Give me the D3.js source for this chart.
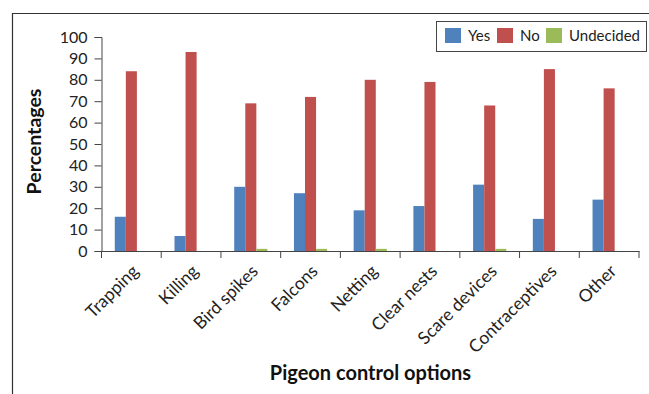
<!DOCTYPE html>
<html><head><meta charset="utf-8">
<script src="https://cdn.jsdelivr.net/npm/d3@7"></script>
<style>body{margin:0;background:#fff;} svg{display:block;}</style>
</head><body>
<script>
const categories = ["Trapping","Killing","Bird spikes","Falcons","Netting","Clear nests","Scare devices","Contraceptives","Other"];
const yesValues = [16,7,30,27,19,21,31,15,24];
const noValues = [84,93,69,72,80,79,68,85,76];
const undecidedValues = [0,0,1,1,1,0,1,0,0];
const seriesNames = ["Yes","No","Undecided"];
const colors = ["#4F81BD","#C0504D","#9BBB59"];
const yTicks = [0,10,20,30,40,50,60,70,80,90,100];

const W=649,H=394;
const font="Lato, 'Open Sans', sans-serif";
const svg=d3.select("body").append("svg").attr("width",W).attr("height",H);
// outer frame
svg.append("path").attr("d","M12.5,394 V13.5 H649").attr("fill","none").attr("stroke","#333").attr("stroke-width",1.2);

const m={left:101.5,right:639,top:37,bottom:251};
const x=d3.scaleBand().domain(categories).range([m.left,m.right]).paddingInner(0).paddingOuter(0);
const y=d3.scaleLinear().domain([0,100]).range([m.bottom,m.top]);
const xs=d3.scaleBand().domain(seriesNames).range([0,x.bandwidth()]).paddingInner(0).paddingOuter(1.2);

const data=categories.map((c,i)=>({c,vals:[yesValues[i],noValues[i],undecidedValues[i]]}));
const g=svg.append("g");
g.selectAll("g.cat").data(data).join("g").attr("class","cat")
 .attr("transform",d=>`translate(${x(d.c)},0)`)
 .selectAll("rect").data(d=>d.vals.map((v,j)=>({v,s:seriesNames[j],j})))
 .join("rect")
 .attr("x",d=>xs(d.s)).attr("width",xs.bandwidth())
 .attr("y",d=>y(d.v)).attr("height",d=>y(0)-y(d.v))
 .attr("fill",d=>colors[d.j]);

// y axis
const ya=svg.append("g").attr("transform",`translate(${m.left},0)`)
 .call(d3.axisLeft(y).tickValues(yTicks).tickSize(7).tickPadding(7));
ya.selectAll("text").attr("font-family",font).attr("font-size",16).attr("fill","#222");
ya.selectAll("line,path").attr("stroke","#444");
// x axis
const xa=svg.append("g").attr("transform",`translate(0,${m.bottom})`)
 .call(d3.axisBottom(x).tickSize(0).tickFormat(""));
xa.select("path").attr("stroke","#444");
const tickPos=d3.range(categories.length+1).map(i=>m.left+i*x.step());
svg.append("g").selectAll("line").data(tickPos).join("line")
 .attr("x1",d=>d).attr("x2",d=>d).attr("y1",m.bottom).attr("y2",m.bottom+7).attr("stroke","#444");
svg.append("g").selectAll("text").data(categories).join("text")
 .attr("transform",d=>`translate(${x(d)+x.bandwidth()/2+4},${m.bottom+17}) rotate(-45)`)
 .attr("text-anchor","end").attr("dy","0.35em")
 .attr("font-family",font).attr("font-size",17.5).attr("fill","#222").text(d=>d);

svg.append("text").attr("x",370.5).attr("y",380).attr("text-anchor","middle")
 .attr("font-family",font).attr("font-weight","bold").attr("font-size",20).attr("fill","#111").text("Pigeon control options");
svg.append("text").attr("transform","translate(40.5,141.5) rotate(-90)").attr("text-anchor","middle")
 .attr("font-family",font).attr("font-weight","bold").attr("font-size",19.5).attr("fill","#111").text("Percentages");

// legend
const lg=svg.append("g");
lg.append("rect").attr("x",436.5).attr("y",21.5).attr("width",210).attr("height",30).attr("fill","#fff").attr("stroke","#444");
const lx=[445,497,546];
seriesNames.forEach((s,i)=>{
  lg.append("rect").attr("x",lx[i]).attr("y",28).attr("width",16).attr("height",15).attr("fill",colors[i]);
  lg.append("text").attr("x",lx[i]+23).attr("y",41).attr("font-family",font).attr("font-size",15).attr("fill","#222").text(s);
});
</script>
</body></html>
